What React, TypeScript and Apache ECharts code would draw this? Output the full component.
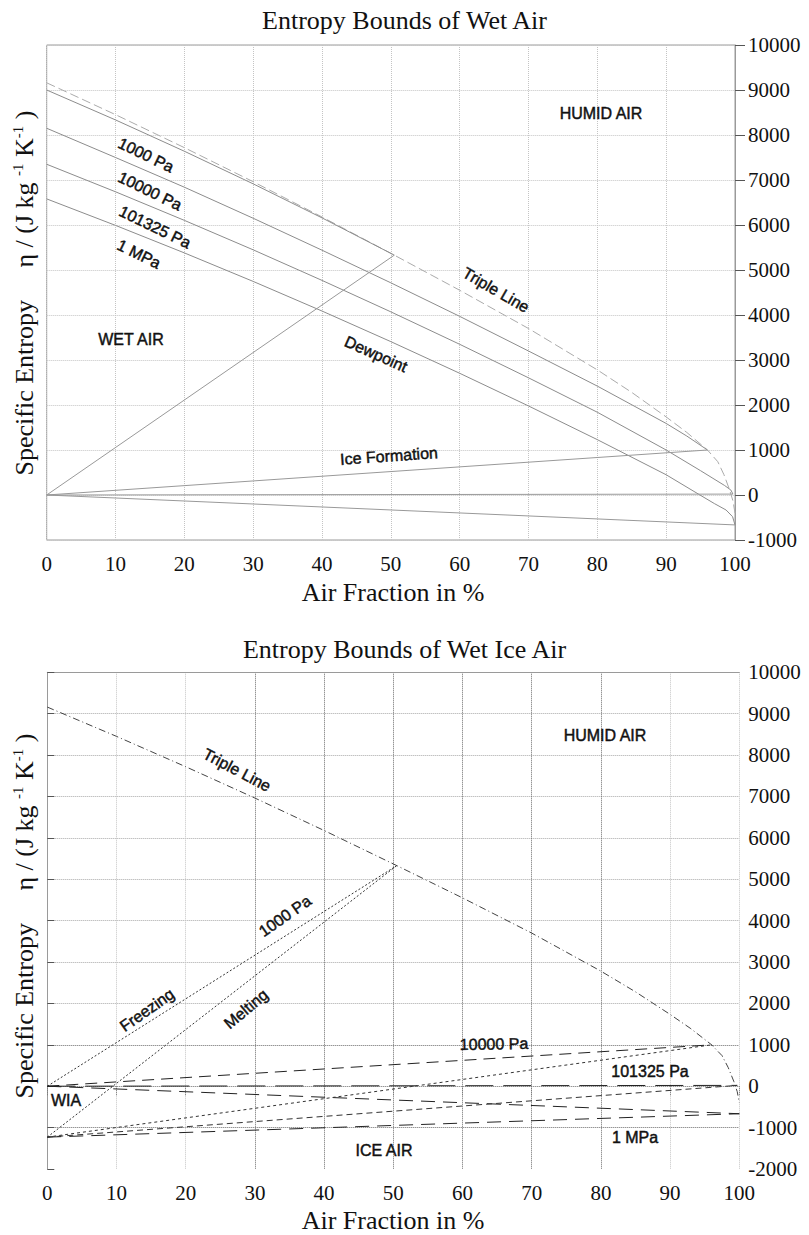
import React, { useEffect, useRef } from 'react';
import * as echarts from 'echarts';

// ---------- Data ----------
const xTickMin = 0;
const xTickMax = 100;
const xTickStep = 10;

const topYMin = -1000;
const bottomYMin = -2000;
const yMax = 10000;
const yStep = 1000;

// Triple line (air fraction %, specific entropy J/(kg K))
const tripleA = [0, 10, 20, 30, 40, 50.5, 60, 70, 80, 85, 90, 93, 96, 97.5, 98.4, 99.2, 99.7, 100];
const tripleEta = [9160, 8452, 7719, 6962, 6178, 5330, 4550, 3700, 2780, 2280, 1735, 1390, 1000, 740, 450, 120, -130, -400];

// Dewpoint curves of wet air
const dew1000A = [0, 10, 20, 30, 40, 50.5];
const dew1000Eta = [9000, 8335, 7639, 6914, 6158, 5330];

const dew10000A = [0, 10, 20, 30, 40, 50, 60, 70, 80, 90, 93, 96];
const dew10000Eta = [8150, 7500, 6840, 6150, 5440, 4715, 3970, 3200, 2420, 1590, 1310, 1000];

const dew101325A = [0, 10, 20, 30, 40, 50, 60, 70, 80, 90, 95, 96.8, 98.5, 99.4, 99.7];
const dew101325Eta = [7350, 6738, 6103, 5448, 4769, 4070, 3349, 2604, 1839, 1000, 540, 370, 210, 110, 20];

const dew1MPaA = [0, 10, 20, 30, 40, 50, 60, 70, 80, 90, 94.8, 97, 98.7, 99.65, 100];
const dew1MPaEta = [6580, 5991, 5380, 4746, 4088, 3408, 2705, 1979, 1230, 450, 10, -190, -333, -482, -665];

// Freezing (from liquid side) and melting (from ice side) start points
const freezeStartA = 0;
const freezeStartEta = 0;
const meltStartA = 0;
const meltStartEta = -1230;

// End points on the triple line for the pressures 1000 Pa, 10000 Pa, 101325 Pa, 1 MPa
const pressureNames = ['1000 Pa', '10000 Pa', '101325 Pa', '1 MPa'];
const pressureEndA = [50.5, 96, 99.7, 100];
const pressureEndEta = [5330, 1000, 20, -665];

// ---------- helpers ----------
const pairs = (a: number[], e: number[]) => a.map((x, i) => [x, e[i]]);

const SERIF = 'Liberation Serif';
const SANS = 'Liberation Sans';

function lineSeries(name: string, data: number[][], gridIdx: number, style: any) {
  return {
    name,
    type: 'line',
    xAxisIndex: gridIdx === 0 ? 0 : 1,
    yAxisIndex: gridIdx === 0 ? 0 : 1,
    data,
    symbol: 'none',
    showSymbol: false,
    silent: true,
    smooth: false,
    lineStyle: style,
    z: 3,
  };
}

function label(text: string, x: number, y: number, deg: number, size = 16) {
  return {
    type: 'text',
    x,
    y,
    rotation: (deg * Math.PI) / 180,
    silent: true,
    z: 10,
    style: {
      text,
      fontFamily: SANS,
      fontSize: size,
      fill: '#111',
      stroke: '#111',
      lineWidth: 0.45,
      align: 'center',
      verticalAlign: 'middle',
    },
  };
}

function yName(y: number) {
  return {
    type: 'text',
    x: 24,
    y,
    rotation: Math.PI / 2,
    silent: true,
    z: 10,
    style: {
      text: '{n|Specific Entropy     η / (J kg }{s|-1}{n| K}{s|-1}{n| )}',
      align: 'center',
      verticalAlign: 'middle',
      rich: {
        n: { fontFamily: SERIF, fontSize: 26, fill: '#111', lineHeight: 28 },
        s: { fontFamily: SERIF, fontSize: 15, fill: '#111', verticalAlign: 'top', lineHeight: 28 },
      },
    },
  };
}

function xName(y: number) {
  return {
    type: 'text',
    x: 393,
    y,
    silent: true,
    z: 10,
    style: {
      text: 'Air Fraction in %',
      fontFamily: SERIF,
      fontSize: 26,
      fill: '#111',
      align: 'center',
      verticalAlign: 'middle',
    },
  };
}

const LIGHT = '#c4c4c4';
const DARK = '#6a6a6a';
const MID = '#a8a8a8';

export default function App() {
  const ref = useRef<HTMLDivElement>(null);

  useEffect(() => {
    document.body.style.margin = '0';
    if (!ref.current) return;
    const chart = echarts.init(ref.current, undefined, { renderer: 'svg' });

    const axisLabel = (margin: number) => ({
      fontFamily: SERIF,
      fontSize: 21,
      color: '#111',
      margin,
      formatter: (v: number) => String(v),
    });

    const topGray = { color: '#8c8c8c', width: 1, type: 'solid' };
    const iceGray = { color: '#999999', width: 1, type: 'solid' };

    const topSeries = [
      lineSeries('Triple Line', pairs(tripleA, tripleEta), 0, { color: '#ababab', width: 1, type: [9, 4] }),
      lineSeries('Dewpoint 1000 Pa', pairs(dew1000A, dew1000Eta), 0, topGray),
      lineSeries('Dewpoint 10000 Pa', pairs(dew10000A, dew10000Eta), 0, topGray),
      lineSeries('Dewpoint 101325 Pa', pairs(dew101325A, dew101325Eta), 0, topGray),
      lineSeries('Dewpoint 1 MPa', pairs(dew1MPaA, dew1MPaEta), 0, topGray),
      ...pressureNames.map((p, i) =>
        lineSeries('Ice ' + p, [[freezeStartA, freezeStartEta], [pressureEndA[i], pressureEndEta[i]]], 0, iceGray)
      ),
    ];

    const freezeStyles = [
      { color: '#333', width: 1, type: [2, 2] },
      { color: '#222', width: 1, type: [12, 7] },
      { color: '#222', width: 1, type: [28, 10] },
      { color: '#222', width: 1, type: [14, 8] },
    ];
    const meltStyles = [
      { color: '#333', width: 1, type: [2, 2] },
      { color: '#333', width: 1, type: [3, 3] },
      { color: '#333', width: 1, type: [6, 4] },
      { color: '#222', width: 1, type: [14, 8] },
    ];

    const bottomSeries = [
      lineSeries('Triple Line (ice)', pairs(tripleA, tripleEta), 1, { color: '#444', width: 1, type: [7, 3, 1, 3] }),
      ...pressureNames.map((p, i) =>
        lineSeries('Freezing ' + p, [[freezeStartA, freezeStartEta], [pressureEndA[i], pressureEndEta[i]]], 1, freezeStyles[i])
      ),
      ...pressureNames.map((p, i) =>
        lineSeries('Melting ' + p, [[meltStartA, meltStartEta], [pressureEndA[i], pressureEndEta[i]]], 1, meltStyles[i])
      ),
    ];

    const bottomXColors = [LIGHT, LIGHT, LIGHT, DARK, DARK, DARK, DARK, DARK, DARK, LIGHT, LIGHT];
    const bottomYColors = ['rgba(0,0,0,0)', DARK, DARK, DARK, MID, MID, MID, MID, MID, MID, MID, MID, MID];

    chart.setOption({
      animation: false,
      backgroundColor: '#ffffff',
      title: [
        {
          text: 'Entropy Bounds of Wet Air',
          left: 'center',
          top: 7,
          padding: 0,
          textStyle: { fontFamily: SERIF, fontSize: 26, fontWeight: 'normal', color: '#111' },
        },
        {
          text: 'Entropy Bounds of Wet Ice Air',
          left: 'center',
          top: 636,
          padding: 0,
          textStyle: { fontFamily: SERIF, fontSize: 26, fontWeight: 'normal', color: '#111' },
        },
      ],
      grid: [
        { left: 46.7, top: 45, width: 688.3, height: 495, show: true, borderColor: '#9a9a9a', borderWidth: 1, containLabel: false },
        { left: 47.3, top: 672.3, width: 692, height: 496.7, show: false, containLabel: false },
      ],
      xAxis: [
        {
          gridIndex: 0,
          type: 'value',
          min: xTickMin,
          max: xTickMax,
          interval: xTickStep,
          axisLine: { show: false },
          axisTick: { show: false },
          axisLabel: axisLabel(13),
          splitLine: { show: true, showMinLine: true, showMaxLine: true, lineStyle: { type: 'dotted', color: LIGHT, width: 1 } },
        },
        {
          gridIndex: 1,
          type: 'value',
          min: xTickMin,
          max: xTickMax,
          interval: xTickStep,
          axisLine: { show: false },
          axisTick: { show: true, length: 9, lineStyle: { type: 'dotted', color: '#777' } },
          axisLabel: axisLabel(13),
          splitLine: { show: true, showMinLine: true, showMaxLine: true, lineStyle: { type: 'dotted', color: bottomXColors, width: 1 } },
        },
        {
          gridIndex: 1,
          type: 'value',
          position: 'top',
          min: xTickMin,
          max: xTickMax,
          axisLine: { show: true, onZero: false, lineStyle: { color: '#9a9a9a', width: 1 } },
          axisTick: { show: false },
          axisLabel: { show: false },
          splitLine: { show: false },
        },
      ],
      yAxis: [
        {
          gridIndex: 0,
          type: 'value',
          position: 'right',
          min: topYMin,
          max: yMax,
          interval: yStep,
          axisLine: { show: true, onZero: false, lineStyle: { color: '#9a9a9a', width: 1 } },
          axisTick: { show: true, length: 10, lineStyle: { color: '#555', width: 1 } },
          axisLabel: axisLabel(13),
          splitLine: { show: true, showMinLine: true, showMaxLine: true, lineStyle: { type: 'dotted', color: LIGHT, width: 1 } },
        },
        {
          gridIndex: 1,
          type: 'value',
          position: 'right',
          min: bottomYMin,
          max: yMax,
          interval: yStep,
          axisLine: { show: false },
          axisTick: { show: true, length: 7, lineStyle: { color: '#555', width: 1 } },
          axisLabel: axisLabel(9),
          splitLine: { show: true, showMinLine: true, showMaxLine: true, lineStyle: { type: 'dotted', color: bottomYColors, width: 1 } },
        },
        {
          gridIndex: 1,
          type: 'value',
          position: 'left',
          min: bottomYMin,
          max: yMax,
          axisLine: { show: true, onZero: false, lineStyle: { color: '#9a9a9a', width: 1 } },
          axisTick: { show: false },
          axisLabel: { show: false },
          splitLine: { show: false },
        },
      ],
      series: [...topSeries, ...bottomSeries],
      graphic: [
        // top chart
        yName(293),
        xName(592),
        label('1000 Pa', 146, 155, -26),
        label('10000 Pa', 150, 191, -26),
        label('101325 Pa', 155, 227, -26),
        label('1 MPa', 139, 254, -26),
        label('HUMID AIR', 601, 113, 0),
        label('WET AIR', 131, 339, 0),
        label('Dewpoint', 376, 354, -24),
        label('Triple Line', 496, 290, -30),
        label('Ice Formation', 389, 456, 4),
        // bottom chart
        yName(916),
        xName(1220),
        label('Triple Line', 237, 770, -28),
        label('HUMID AIR', 605, 735, 0),
        label('1000 Pa', 285, 916, 35),
        label('Freezing', 147, 1010, 35),
        label('Melting', 246, 1009, 40),
        label('10000 Pa', 494, 1044, 1),
        label('101325 Pa', 650, 1071, 0),
        label('1 MPa', 635, 1137, 0),
        label('WIA', 66, 1100, 0),
        label('ICE AIR', 384, 1150, 0),
      ],
    });

    return () => {
      chart.dispose();
    };
  }, []);

  return <div ref={ref} style={{ width: 809, height: 1235 }} />;
}
